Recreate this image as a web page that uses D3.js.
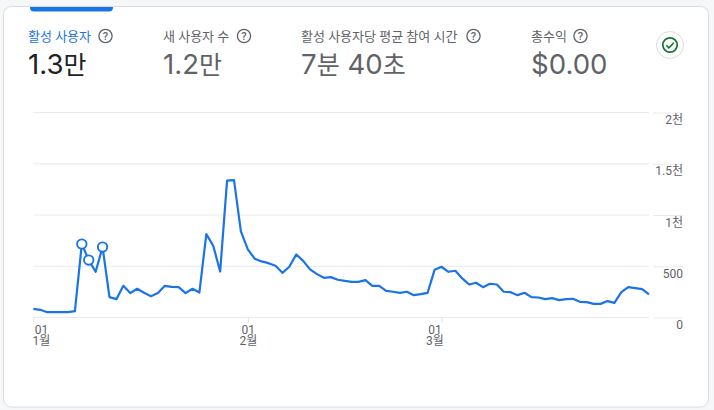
<!DOCTYPE html>
<html><head><meta charset="utf-8">
<script src="https://cdn.jsdelivr.net/npm/d3@7"></script>
<style>
html,body{margin:0;padding:0;background:#f6f7f9;overflow:hidden}
text{font-family:Roboto,"Noto Sans CJK KR",sans-serif}
</style></head><body>
<svg id="c" width="714" height="410"></svg>
<script>
const startDate = "2023-01-01";
const users = [85,75,52,52,52,52,62,716,560,446,687,199,179,309,238,280,241,208,238,309,299,296,238,280,244,814,700,449,1335,1341,
  840,664,573,547,530,504,436,495,615,553,469,423,387,394,368,358,348,348,365,309,309,260,251,241,251,218,228,241,465,495,
  446,456,381,322,339,296,329,322,251,247,218,241,199,195,179,189,169,179,182,153,150,133,133,160,143,247,296,286,277,225];
const markedDays = [7,8,10];
const yTicks = [0,500,1000,1500,2000];
const yTickLabels = ["0","500","1천","1.5천","2천"];
const xTickDates = ["2023-01-01","2023-02-01","2023-03-01"];
const xTickDay = ["01","01","01"];
const xTickMonth = ["1월","2월","3월"];
const metricNames = ["활성 사용자","새 사용자 수","활성 사용자당 평균 참여 시간","총수익"];
const metricValues = ["1.3만","1.2만","7분 40초","$0.00"];
const metricX = [28,163,301,531];
const iconX = [105.5,244,473.5,580.5];
const xLabelShift = [7.5,0,-7];

const svg = d3.select("#c");
const parse = d3.utcParse("%Y-%m-%d");
const x = d3.scaleUtc().domain([parse("2023-01-01"),parse("2023-03-31")]).range([33.4,649]);
const y = d3.scaleLinear().domain([0,2000]).range([317.5,112.5]);
const dates = users.map((_,i)=>d3.utcDay.offset(parse(startDate),i));

// card
svg.append("rect").attr("x",3.5).attr("y",6.5).attr("width",705).attr("height",400.5).attr("rx",8)
  .attr("fill","#fff").attr("stroke","#dadce0");
svg.append("path").attr("d","M30 7H113V7.5a4 4 0 0 1-4 4H34a4 4 0 0 1-4-4Z").attr("fill","#1a73e8");

// metrics
metricNames.forEach((m,i)=>{
  svg.append("text").attr("x",metricX[i]).attr("y",41).attr("font-size",13)
    .attr("fill",i===0?"#1a73e8":"#5f6368").text(m);
  svg.append("circle").attr("cx",iconX[i]).attr("cy",36).attr("r",6.6)
    .attr("fill","none").attr("stroke","#5f6368").attr("stroke-width",1.3);
  svg.append("text").attr("x",iconX[i]).attr("y",40).attr("text-anchor","middle").attr("font-size",11)
    .attr("font-weight",500).attr("fill","#5f6368").text("?");
  const t = svg.append("text").attr("x",metricX[i]).attr("y",74)
    .attr("fill",i===0?"#202124":"#5f6368");
  metricValues[i].match(/[\uAC00-\uD7A3]+|[^\uAC00-\uD7A3]+/g).forEach(run=>{
    const hangul = /[\uAC00-\uD7A3]/.test(run);
    t.append("tspan").attr("font-size",hangul?25:27.6)
      .style("font-family",hangul?'"Noto Sans CJK KR"':'Inter,Roboto,sans-serif')
      .text(run);
  });
});

// status badge
svg.append("circle").attr("cx",670).attr("cy",45).attr("r",13.5).attr("fill","#fff").attr("stroke","#dadce0");
svg.append("circle").attr("cx",670).attr("cy",45).attr("r",7.2).attr("fill","none").attr("stroke","#137333").attr("stroke-width",1.7);
svg.append("path").attr("d","M666.3 45.2l2.6 2.6 4.9-5").attr("fill","none").attr("stroke","#137333").attr("stroke-width",1.6);

// y axis
const gy = svg.append("g").attr("transform","translate(649,0)")
  .call(d3.axisRight(y).tickValues(yTicks).tickFormat((d,i)=>yTickLabels[i]).tickSize(34));
gy.select(".domain").remove();
gy.selectAll(".tick line").attr("stroke","#e8eaed").attr("x1",4);
gy.selectAll(".tick text").attr("x",34).attr("dy",null).attr("y",11).attr("text-anchor","end")
  .attr("font-size",12).attr("fill","#5f6368");
// gridlines
svg.append("g").selectAll("line").data(yTicks).join("line")
  .attr("x1",33.4).attr("x2",649).attr("y1",d=>y(d)).attr("y2",d=>y(d)).attr("stroke","#e8eaed");

// x axis: day and month are two lines of one label
const gx = svg.append("g").attr("transform","translate(0,317.5)")
  .call(d3.axisBottom(x).tickValues(xTickDates.map(parse)).tickFormat("").tickSize(5));
gx.select(".domain").remove();
gx.selectAll(".tick line").attr("stroke","#dadce0");
gx.selectAll(".tick text").each(function(d,i){
  const t = d3.select(this).attr("text-anchor","middle").attr("y",16).attr("dy",null)
    .attr("font-size",12).attr("fill","#5f6368");
  t.append("tspan").attr("x",xLabelShift[i]).text(xTickDay[i]);
  t.append("tspan").attr("x",xLabelShift[i]).attr("dy",11).text(xTickMonth[i]);
});

// line
const line = d3.line().x((d,i)=>x(dates[i])).y(d=>y(d));
svg.append("path").datum(users).attr("d",line).attr("fill","none").attr("stroke","#1a73e8").attr("stroke-width",2.2).attr("stroke-linejoin","round");
svg.append("g").selectAll("circle").data(markedDays).join("circle")
  .attr("cx",d=>x(dates[d])).attr("cy",d=>y(users[d])).attr("r",4.7)
  .attr("fill","#fff").attr("stroke","#1a73e8").attr("stroke-width",1.9);
</script></body></html>
